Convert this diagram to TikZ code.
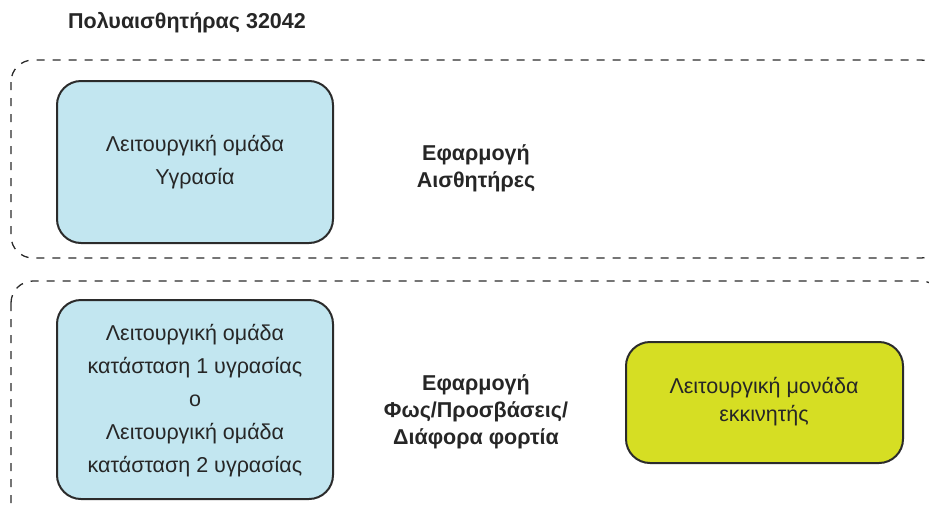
\documentclass[tikz,border=0pt]{standalone}
\usepackage{fontspec}
\setmainfont{Liberation Sans}
\definecolor{lblue}{HTML}{C2E6F0}
\definecolor{lyell}{HTML}{D6DE23}
\definecolor{edge}{HTML}{2B2B2B}
\begin{document}
\begin{tikzpicture}[x=1pt,y=-1pt,
  grp/.style={draw=edge,dashed,dash pattern=on 8pt off 8pt,line width=1.3pt,rounded corners=22pt},
  fbox/.style={draw=edge,line width=2pt,rounded corners=24pt},
  txt/.style={font=\fontsize{21.5}{33}\selectfont,align=center,text=black!85},
  ytxt/.style={font=\fontsize{21.5}{28}\selectfont,align=center,text=black!85},
  btxt/.style={font=\fontsize{21.5}{27}\selectfont\bfseries,align=center,text=black!85}]
\useasboundingbox (0,0) rectangle (929,509);
\begin{scope}
\clip (0,0) rectangle (929,509);
\draw[grp] (11,60) rectangle (943,258);
\draw[grp] (11,281) rectangle (943,540);
\end{scope}
\node[btxt,anchor=west,inner sep=0pt] (title) at (68,23) {Πολυαισθητήρας 32042};
\draw[fbox,fill=lblue] (57,81) rectangle (333,243);
\node[txt] (hum) at (195,162) {Λειτουργική ομάδα\\Υγρασία};
\node[btxt] (app1) at (476,168) {Εφαρμογή\\Αισθητήρες};
\draw[fbox,fill=lblue] (57,300) rectangle (333,499);
\node[txt] (state) at (195,401) {Λειτουργική ομάδα\\κατάσταση 1 υγρασίας\\ο\\Λειτουργική ομάδα\\κατάσταση 2 υγρασίας};
\node[btxt] (app2) at (476,412) {Εφαρμογή\\Φως/Προσβάσεις/\\Διάφορα φορτία};
\draw[fbox,fill=lyell] (626,342) rectangle (903,463);
\node[ytxt] (act) at (764,402) {Λειτουργική μονάδα\\εκκινητής};
\end{tikzpicture}
\end{document}
